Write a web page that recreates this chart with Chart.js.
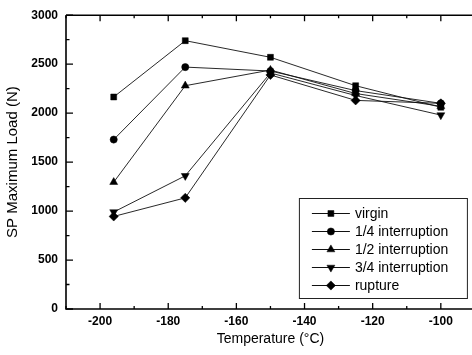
<!DOCTYPE html>
<html><head><meta charset="utf-8">
<script src="https://cdn.jsdelivr.net/npm/chart.js@4/dist/chart.umd.min.js"></script>
<style>html,body{margin:0;padding:0;overflow:hidden;background:#fff;width:472px;height:355px}canvas{display:block}</style>
</head><body><canvas id="c" width="480" height="355"></canvas>
<script>
const temperatures = [-196, -175, -150, -125, -100];
const virgin = [2165, 2740, 2570, 2280, 2060];
const quarter = [1730, 2470, 2430, 2230, 2100];
const half = [1295, 2280, 2440, 2200, 2070];
const threeQuarter = [990, 1360, 2410, 2180, 1980];
const rupture = [945, 1135, 2390, 2130, 2100];
const seriesLabels = ['virgin', '1/4 interruption', '1/2 interruption', '3/4 interruption', 'rupture'];
const xTicks = [-200, -180, -160, -140, -120, -100];
const xMinorTicks = [-210, -190, -170, -150, -130, -110, -90];
const yTicks = [0, 500, 1000, 1500, 2000, 2500, 3000];
const yMinorTicks = [250, 750, 1250, 1750, 2250, 2750];

const styles = [
  {pointStyle: 'rect', pointRadius: 4.2, rot: 0},
  {pointStyle: 'circle', pointRadius: 3.6, rot: 0},
  {pointStyle: 'triangle', pointRadius: 4.6, rot: 0},
  {pointStyle: 'triangle', pointRadius: 4.6, rot: 180},
  {pointStyle: 'rectRot', pointRadius: 4.6, rot: 0}
];
const seriesValues = [virgin, quarter, half, threeQuarter, rupture];

const datasets = seriesValues.map((vals, i) => ({
  label: seriesLabels[i],
  data: temperatures.map((t, j) => ({x: t, y: vals[j]})),
  borderColor: '#111',
  backgroundColor: '#000',
  borderWidth: 0.9,
  pointStyle: styles[i].pointStyle,
  pointRadius: styles[i].pointRadius,
  pointRotation: styles[i].rot,
  pointBorderWidth: 0.5,
  pointBackgroundColor: '#000',
  pointBorderColor: '#000',
  tension: 0
}));

function drawMarker(ctx, style, r, rot, x, y) {
  if (Chart.helpers && Chart.helpers.drawPoint) {
    ctx.fillStyle = '#000'; ctx.strokeStyle = '#000'; ctx.lineWidth = 0.5;
    Chart.helpers.drawPoint(ctx, {pointStyle: style, radius: r, rotation: rot, borderWidth: 0.5}, x, y);
    return;
  }
  ctx.save(); ctx.fillStyle = '#000'; ctx.translate(x, y); ctx.rotate(rot * Math.PI / 180);
  ctx.beginPath();
  if (style === 'rect') { const s = r * Math.SQRT1_2; ctx.rect(-s, -s, 2 * s, 2 * s); }
  else if (style === 'circle') { ctx.arc(0, 0, r, 0, Math.PI * 2); }
  else if (style === 'triangle') { ctx.moveTo(0, -r); ctx.lineTo(r * 0.866, r * 0.5); ctx.lineTo(-r * 0.866, r * 0.5); ctx.closePath(); }
  else if (style === 'rectRot') { ctx.moveTo(0, -r); ctx.lineTo(r, 0); ctx.lineTo(0, r); ctx.lineTo(-r, 0); ctx.closePath(); }
  ctx.fill(); ctx.restore();
}

const framePlugin = {
  id: 'frame',
  afterDraw(chart) {
    const ctx = chart.ctx;
    const a = chart.chartArea;
    const xs = chart.scales.x, ys = chart.scales.y;
    ctx.save();
    ctx.strokeStyle = '#000';
    ctx.lineWidth = 1.6;
    ctx.beginPath();
    ctx.moveTo(a.left, a.top); ctx.lineTo(a.right, a.top);
    ctx.moveTo(a.left, a.top); ctx.lineTo(a.left, a.bottom); ctx.lineTo(a.right, a.bottom);
    ctx.lineTo(a.right, a.top);
    ctx.stroke();
    ctx.lineWidth = 1.3;
    ctx.beginPath();
    xTicks.forEach(v => { const p = xs.getPixelForValue(v); ctx.moveTo(p, a.bottom); ctx.lineTo(p, a.bottom - 6); ctx.moveTo(p, a.top); ctx.lineTo(p, a.top + 6); });
    xMinorTicks.forEach(v => { const p = xs.getPixelForValue(v); ctx.moveTo(p, a.bottom); ctx.lineTo(p, a.bottom - 3); ctx.moveTo(p, a.top); ctx.lineTo(p, a.top + 3); });
    yTicks.forEach(v => { const p = ys.getPixelForValue(v); ctx.moveTo(a.left, p); ctx.lineTo(a.left + 7, p); });
    yMinorTicks.forEach(v => { const p = ys.getPixelForValue(v); ctx.moveTo(a.left, p); ctx.lineTo(a.left + 3.5, p); });
    ctx.stroke();

    // legend
    const bx = a.right - 176, by = a.bottom - 111, bw = 168, bh = 100;
    ctx.fillStyle = '#fff';
    ctx.fillRect(bx, by, bw, bh);
    ctx.lineWidth = 1;
    ctx.strokeStyle = '#222';
    ctx.strokeRect(bx + 0.5, by + 0.5, bw, bh);
    ctx.font = '14px "Liberation Sans", Arial, sans-serif';
    ctx.textBaseline = 'middle';
    ctx.textAlign = 'left';
    chart.data.datasets.forEach((ds, i) => {
      const yy = by + 15.5 + i * 18;
      ctx.strokeStyle = '#111'; ctx.lineWidth = 1;
      ctx.beginPath(); ctx.moveTo(bx + 13, yy); ctx.lineTo(bx + 51, yy); ctx.stroke();
      drawMarker(ctx, ds.pointStyle, ds.pointRadius, ds.pointRotation, bx + 32, yy);
      ctx.fillStyle = '#000';
      ctx.fillText(ds.label, bx + 56, yy + 0.5);
    });
    ctx.restore();
  }
};

new Chart(document.getElementById('c'), {
  type: 'line',
  data: {datasets},
  options: {
    responsive: false,
    animation: false,
    devicePixelRatio: 1,
    layout: {padding: {top: 15, right: 5, left: 0, bottom: 0}},
    plugins: {legend: {display: false}, tooltip: {enabled: false}},
    scales: {
      x: {
        type: 'linear', min: -210, max: -90,
        grid: {display: false, drawTicks: false},
        border: {display: false},
        afterBuildTicks: s => { s.ticks = xTicks.map(v => ({value: v})); },
        afterFit: s => { s.height = 46; },
        ticks: {color: '#000', callback: v => String(v), font: {family: '"Liberation Sans", Arial, sans-serif', size: 12, weight: 'bold'}, padding: 5, maxRotation: 0},
        title: {display: true, text: 'Temperature (°C)', color: '#000', font: {family: '"Liberation Sans", Arial, sans-serif', size: 14}, padding: {top: 0, bottom: 7}}
      },
      y: {
        type: 'linear', min: 0, max: 3000,
        grid: {display: false, drawTicks: false},
        border: {display: false},
        afterBuildTicks: s => { s.ticks = yTicks.map(v => ({value: v})); },
        afterFit: s => { s.width = 66; },
        ticks: {color: '#000', callback: v => String(v), font: {family: '"Liberation Sans", Arial, sans-serif', size: 12, weight: 'bold'}, padding: 8},
        title: {display: true, text: 'SP Maximum Load (N)', color: '#000', font: {family: '"Liberation Sans", Arial, sans-serif', size: 15}, padding: {top: 4, bottom: 0}}
      }
    }
  },
  plugins: [framePlugin]
});
</script>
</body></html>
